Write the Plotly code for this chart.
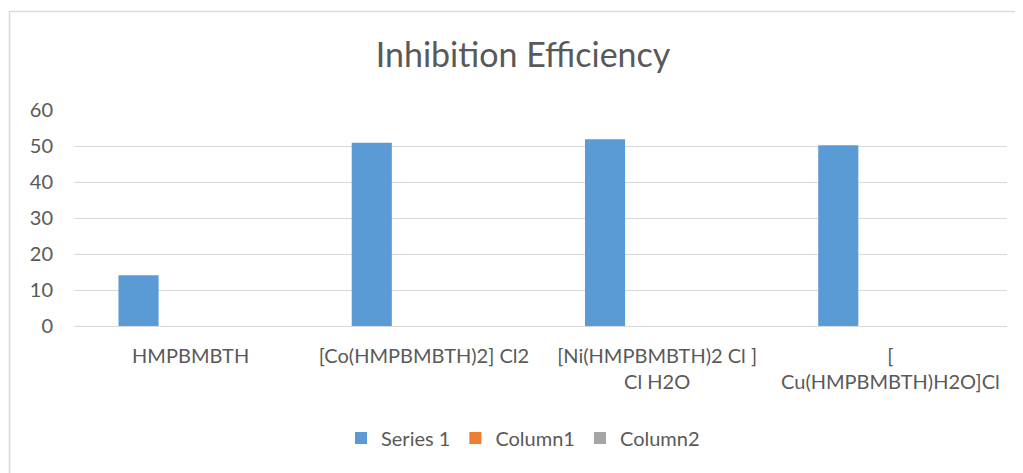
import plotly.graph_objects as go

categories = ["HMPBMBTH", "[Co(HMPBMBTH)2] Cl2", "[Ni(HMPBMBTH)2 Cl ] Cl H2O", "[ Cu(HMPBMBTH)H2O]Cl"]
tick_labels = ["HMPBMBTH", "[Co(HMPBMBTH)2] Cl2", "[Ni(HMPBMBTH)2 Cl ]<br>Cl H2O", "[<br>Cu(HMPBMBTH)H2O]Cl"]
series1 = [14.1, 50.9, 51.9, 50.2]
column1 = [None, None, None, None]
column2 = [None, None, None, None]
y_ticks = [0, 10, 20, 30, 40, 50, 60]

FONT = "Lato"
GREY = "#595959"

OFF = 8  # page body margin
W, H = 1023 - OFF, 473 - OFF
# page-pixel layout targets
PL, PR, PT, PB = 74, 1007, 110, 326
ML = PL - OFF
MT = PT - OFF
MR = W - (PR - OFF)
MB = H - (PB - OFF)
pw = W - ML - MR
ph = H - MT - MB

def px_x(p):
    return (p - PL) / pw

def px_y(p):
    return (PB - p) / ph

fig = go.Figure()
fig.add_trace(go.Bar(x=categories, y=series1, name="Series 1", marker=dict(color="#5B9BD5", line=dict(width=0))))
fig.add_trace(go.Bar(x=categories, y=column1, name="Column1", marker=dict(color="#ED7D31", line=dict(width=0))))
fig.add_trace(go.Bar(x=categories, y=column2, name="Column2", marker=dict(color="#A5A5A5", line=dict(width=0))))

fig.update_layout(
    width=W, height=H,
    margin=dict(l=ML, r=MR, t=MT, b=MB),
    paper_bgcolor="white", plot_bgcolor="white",
    barmode="group", bargap=0.33, bargroupgap=0.23,
    font=dict(family=FONT, color=GREY, size=20),
    title=dict(text="Inhibition Efficiency", x=(523 - OFF) / W, xanchor="center", y=1 - (55 - OFF) / H, yanchor="middle",
               xref="container", yref="container", font=dict(size=34, color=GREY, family=FONT)),
    legend=dict(orientation="h", x=px_x(523), xanchor="center", y=px_y(438), yanchor="middle",
                font=dict(size=20, color=GREY), itemclick=False, traceorder="normal"),
    showlegend=True,
    shapes=[dict(type="rect", xref="paper", yref="paper",
                 x0=px_x(9.5), x1=px_x(1100), y0=px_y(11.5), y1=px_y(600),
                 line=dict(color="#D9D9D9", width=1.5), layer="below")],
)
fig.update_xaxes(tickvals=categories, ticktext=tick_labels, showgrid=False, showline=False,
                 ticks="", ticklabelstandoff=16, tickfont=dict(size=20, color=GREY))
fig.update_yaxes(range=[0, 60], tickvals=y_ticks, showgrid=True, gridcolor="#D9D9D9", gridwidth=1.3,
                 zeroline=True, zerolinecolor="#D9D9D9", zerolinewidth=1.3, showline=False,
                 ticks="", ticklabelstandoff=20, tickfont=dict(size=20, color=GREY))

fig.write_html("out.html")
